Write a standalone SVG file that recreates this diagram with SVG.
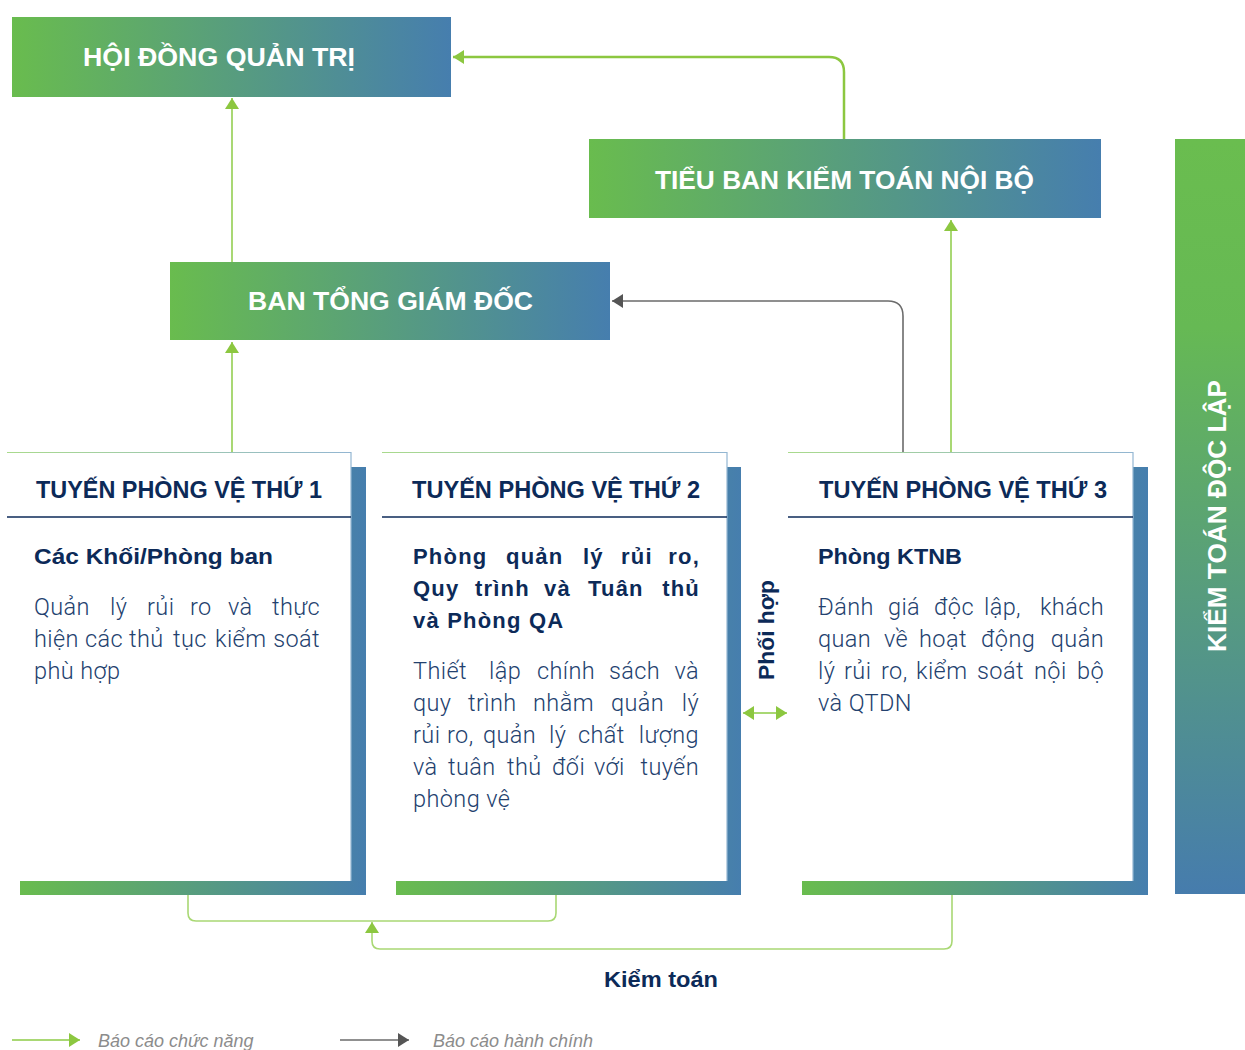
<svg xmlns="http://www.w3.org/2000/svg" width="1245" height="1050" viewBox="0 0 1245 1050">
<defs>
<linearGradient id="gH" x1="0" y1="0" x2="1" y2="0">
<stop offset="0" stop-color="#69bc4e"/>
<stop offset="1" stop-color="#467eae"/>
</linearGradient>
<linearGradient id="gV" x1="0" y1="0" x2="0" y2="1">
<stop offset="0" stop-color="#6abd4f"/>
<stop offset="0.25" stop-color="#66b954"/>
<stop offset="1" stop-color="#467cad"/>
</linearGradient>
<linearGradient id="gB" x1="0" y1="0" x2="1" y2="0">
<stop offset="0" stop-color="#a9da8c"/>
<stop offset="1" stop-color="#93b6d2"/>
</linearGradient>
<marker id="aG" markerUnits="userSpaceOnUse" markerWidth="12" markerHeight="14" refX="11" refY="7" orient="auto-start-reverse" viewBox="0 0 12 14">
<path d="M0,0 L11,7 L0,14 Z" fill="#8cc740"/>
</marker>
<marker id="aK" markerUnits="userSpaceOnUse" markerWidth="12" markerHeight="14" refX="11" refY="7" orient="auto" viewBox="0 0 12 14">
<path d="M0,0 L11,7 L0,14 Z" fill="#555555"/>
</marker>
<style>
.top{font-family:"Liberation Sans",Arial,sans-serif;font-weight:700;fill:#ffffff;}
.hd{font-family:"Liberation Sans",Arial,sans-serif;font-weight:700;font-size:24px;fill:#0c2a58;text-anchor:middle;}
.bh{font-family:"Liberation Sans",Arial,sans-serif;font-weight:700;font-size:22px;fill:#0c2a58;}
.sp{letter-spacing:1.2px;}
.bd{font-family:Roboto,"Liberation Sans",sans-serif;font-weight:300;font-size:23.5px;letter-spacing:0.4px;fill:#23416e;}
.end{text-anchor:end;}
.lg{font-family:"Liberation Sans",Arial,sans-serif;font-style:italic;font-size:18px;fill:#8c8c8c;}
.cG{fill:none;stroke:#a9d874;stroke-width:2;}
.cG2{fill:none;stroke:#8cc740;stroke-width:2.5;}
.cK{fill:none;stroke:#6b6b6b;stroke-width:1.6;}
.cB{fill:none;stroke:#a9d874;stroke-width:1.6;}
.shadow{fill:url(#gH);}
.card{fill:#ffffff;}
.edge{fill:none;stroke:url(#gB);stroke-width:1.2;}
.div{stroke:#0c2a58;stroke-width:1.6;}
</style>
</defs>

<g id="connectors">
<path class="cG" d="M232,262 V98" marker-end="url(#aG)"/>
<path class="cG" d="M232,452 V342" marker-end="url(#aG)"/>
<path class="cG" d="M951,452 V220" marker-end="url(#aG)"/>
<path class="cG2" d="M844,139 V72 Q844,57 829,57 H453" marker-end="url(#aG)"/>
<path class="cK" d="M903,452 V316 Q903,301 888,301 H612" marker-end="url(#aK)"/>
<path class="cB" d="M188,895 V913 Q188,921 196,921 H548 Q556,921 556,913 V895"/>
<path class="cB" d="M952,895 V941 Q952,949 944,949 H380 Q372,949 372,941 V922" marker-end="url(#aG)"/>
<path class="cG" d="M743,713 H787" marker-start="url(#aG)" marker-end="url(#aG)"/>
</g>

<g id="hdqt">
<rect x="12" y="17" width="439" height="80" fill="url(#gH)"/>
<text class="top" x="219" y="66" font-size="26" text-anchor="middle" textLength="272" lengthAdjust="spacingAndGlyphs">HỘI ĐỒNG QUẢN TRỊ</text>
</g>

<g id="tieuban">
<rect x="589" y="139" width="512" height="79" fill="url(#gH)"/>
<text class="top" x="844.5" y="189" font-size="26" text-anchor="middle" textLength="379" lengthAdjust="spacingAndGlyphs">TIỂU BAN KIỂM TOÁN NỘI BỘ</text>
</g>

<g id="bantgd">
<rect x="170" y="262" width="440" height="78" fill="url(#gH)"/>
<text class="top" x="390.5" y="310" font-size="26" text-anchor="middle" textLength="285" lengthAdjust="spacingAndGlyphs">BAN TỔNG GIÁM ĐỐC</text>
</g>

<g id="kiemtoandoclap">
<rect x="1175" y="139" width="70" height="755" fill="url(#gV)"/>
<text class="top" transform="translate(1226,516) rotate(-90)" font-size="26" text-anchor="middle" textLength="272" lengthAdjust="spacingAndGlyphs">KIỂM TOÁN ĐỘC LẬP</text>
</g>

<g id="tuyen1">
<rect class="shadow" x="20" y="467" width="346" height="428"/>
<rect class="card" x="7" y="452" width="344" height="429"/>
<path class="edge" d="M7,452.5 H351 V881"/>
<text class="hd" x="179" y="498" textLength="286" lengthAdjust="spacingAndGlyphs">TUYẾN PHÒNG VỆ THỨ 1</text>
<line class="div" x1="7" y1="517" x2="351" y2="517"/>
<text class="bh" x="34" y="564" textLength="239" lengthAdjust="spacingAndGlyphs">Các Khối/Phòng ban</text>
<text class="bd" y="615"><tspan x="34">Quản</tspan><tspan x="110">lý</tspan><tspan x="147">rủi</tspan><tspan x="190">ro</tspan><tspan x="228">và</tspan></text>
<text class="bd end" x="320" y="615">thực</text>
<text class="bd" y="647"><tspan x="34">hiện</tspan><tspan x="85">các</tspan><tspan x="129">thủ</tspan><tspan x="173">tục</tspan><tspan x="215">kiểm</tspan></text>
<text class="bd end" x="320" y="647">soát</text>
<text class="bd" x="34" y="679">phù hợp</text>
</g>

<g id="tuyen2">
<rect class="shadow" x="396" y="467" width="345" height="428"/>
<rect class="card" x="382" y="452" width="345" height="429"/>
<path class="edge" d="M382,452.5 H727 V881"/>
<text class="hd" x="556" y="498" textLength="288" lengthAdjust="spacingAndGlyphs">TUYẾN PHÒNG VỆ THỨ 2</text>
<line class="div" x1="382" y1="517" x2="727" y2="517"/>
<text class="bh sp" y="564"><tspan x="413">Phòng</tspan><tspan x="506">quản</tspan><tspan x="583">lý</tspan><tspan x="621">rủi</tspan></text>
<text class="bh sp end" x="700" y="564">ro,</text>
<text class="bh sp" y="596"><tspan x="413">Quy</tspan><tspan x="475">trình</tspan><tspan x="544">và</tspan><tspan x="588">Tuân</tspan></text>
<text class="bh sp end" x="700" y="596">thủ</text>
<text class="bh sp" x="413" y="628">và Phòng QA</text>
<text class="bd" y="679"><tspan x="413">Thiết</tspan><tspan x="489">lập</tspan><tspan x="537">chính</tspan><tspan x="609">sách</tspan></text>
<text class="bd end" x="699" y="679">và</text>
<text class="bd" y="711"><tspan x="413">quy</tspan><tspan x="468">trình</tspan><tspan x="533">nhằm</tspan><tspan x="611">quản</tspan></text>
<text class="bd end" x="699" y="711">lý</text>
<text class="bd" y="743"><tspan x="413">rủi</tspan><tspan x="447">ro,</tspan><tspan x="483">quản</tspan><tspan x="549">lý</tspan><tspan x="578">chất</tspan></text>
<text class="bd end" x="699" y="743">lượng</text>
<text class="bd" y="775"><tspan x="413">và</tspan><tspan x="448">tuân</tspan><tspan x="507">thủ</tspan><tspan x="552">đối</tspan><tspan x="594">với</tspan></text>
<text class="bd end" x="699" y="775">tuyến</text>
<text class="bd" x="413" y="807">phòng vệ</text>
</g>

<g id="phoihop">
<text class="bh" transform="translate(774,630) rotate(-90)" text-anchor="middle" textLength="100" lengthAdjust="spacingAndGlyphs">Phối hợp</text>
</g>

<g id="tuyen3">
<rect class="shadow" x="802" y="467" width="346" height="428"/>
<rect class="card" x="788" y="452" width="345" height="429"/>
<path class="edge" d="M788,452.5 H1133 V881"/>
<text class="hd" x="963" y="498" textLength="288" lengthAdjust="spacingAndGlyphs">TUYẾN PHÒNG VỆ THỨ 3</text>
<line class="div" x1="788" y1="517" x2="1133" y2="517"/>
<text class="bh" x="818" y="564" textLength="144" lengthAdjust="spacingAndGlyphs">Phòng KTNB</text>
<text class="bd" y="615"><tspan x="818">Đánh</tspan><tspan x="888">giá</tspan><tspan x="934">độc</tspan><tspan x="984">lập,</tspan></text>
<text class="bd end" x="1104" y="615">khách</text>
<text class="bd" y="647"><tspan x="818">quan</tspan><tspan x="884">về</tspan><tspan x="919">hoạt</tspan><tspan x="981">động</tspan></text>
<text class="bd end" x="1104" y="647">quản</text>
<text class="bd" y="679"><tspan x="818">lý</tspan><tspan x="844">rủi</tspan><tspan x="881">ro,</tspan><tspan x="916">kiểm</tspan><tspan x="977">soát</tspan><tspan x="1034">nội</tspan></text>
<text class="bd end" x="1104" y="679">bộ</text>
<text class="bd" x="818" y="711">và QTDN</text>
</g>

<g id="kiemtoan">
<text class="bh" x="661" y="987" text-anchor="middle" textLength="114" lengthAdjust="spacingAndGlyphs">Kiểm toán</text>
</g>

<g id="legend">
<path class="cG" d="M12,1040 H80" marker-end="url(#aG)"/>
<text class="lg" x="98" y="1047">Báo cáo chức năng</text>
<path class="cK" d="M340,1040 H409" marker-end="url(#aK)"/>
<text class="lg" x="433" y="1047">Báo cáo hành chính</text>
</g>
</svg>
